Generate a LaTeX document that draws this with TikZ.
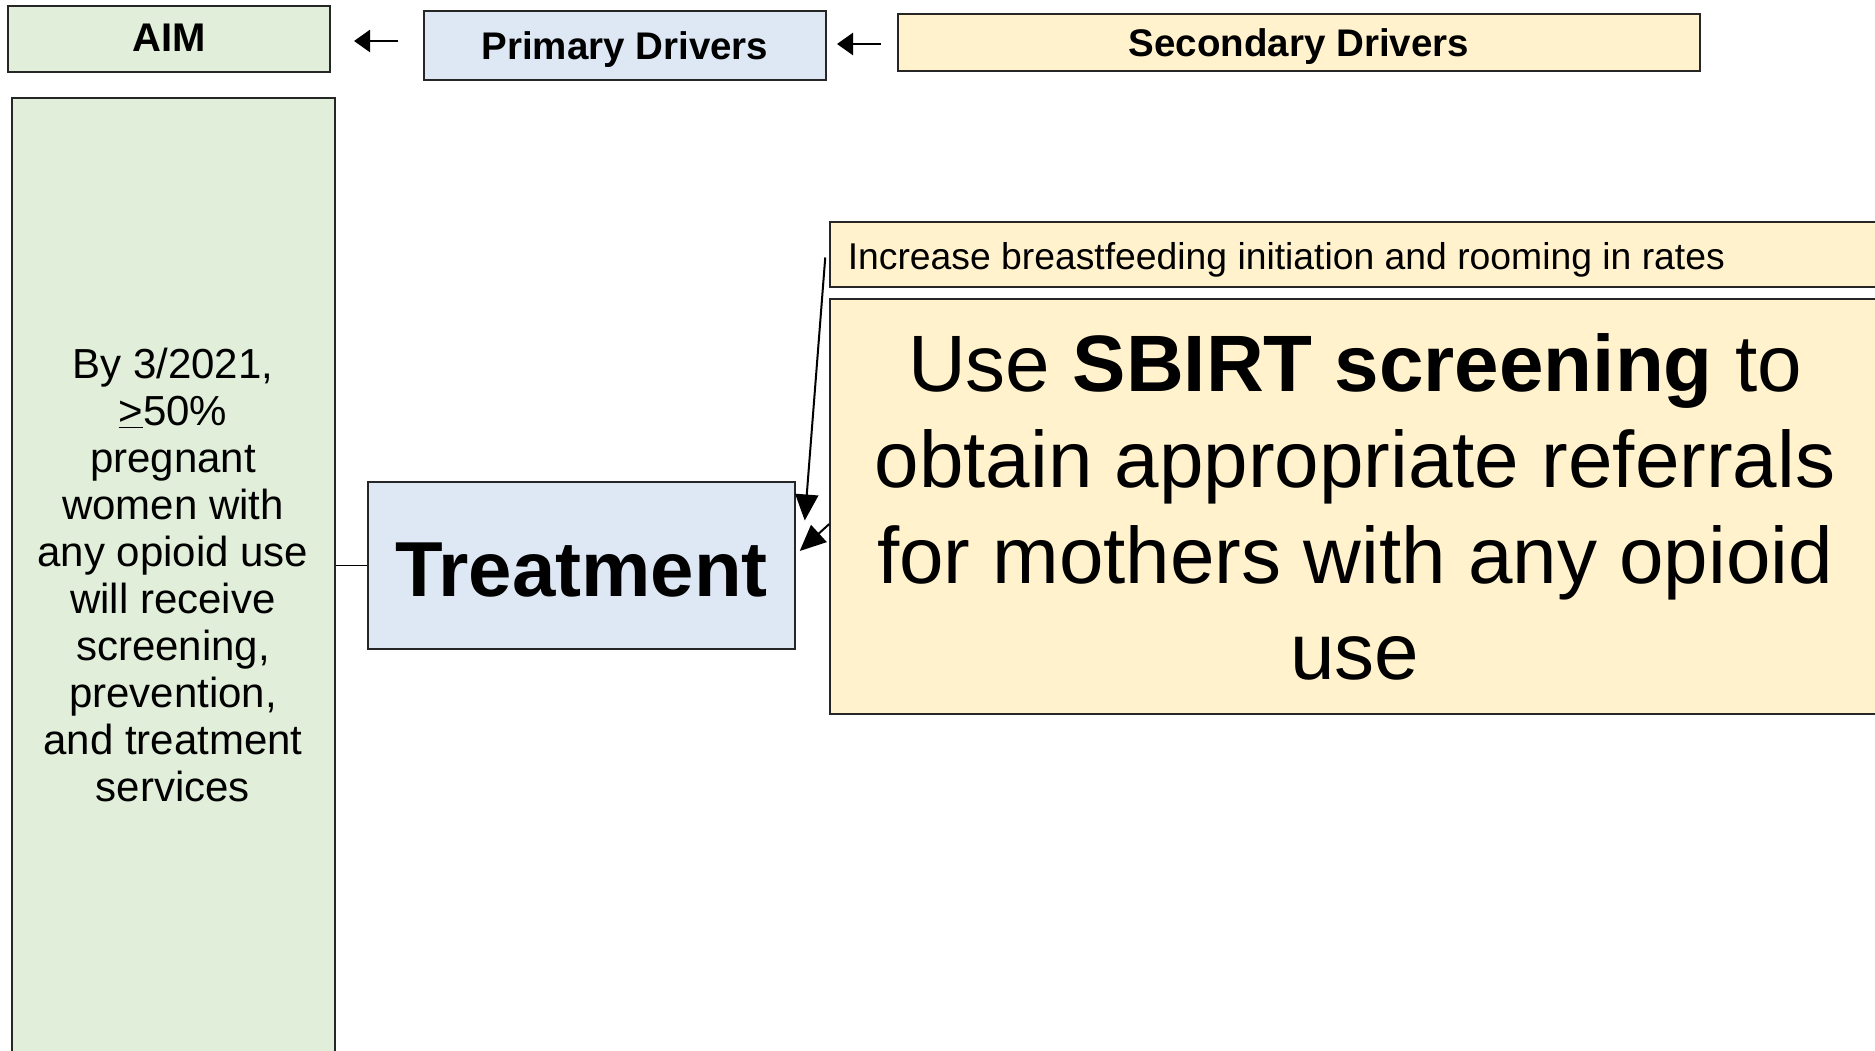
\documentclass[tikz,border=0pt]{standalone}
\usepackage{fontspec}
\setmainfont{Liberation Sans}
\usetikzlibrary{arrows.meta,calc}
\definecolor{aimgreen}{HTML}{E1EED9}
\definecolor{pdblue}{HTML}{DEE8F5}
\definecolor{sdyellow}{HTML}{FFF2CC}
\begin{document}
\begin{tikzpicture}[x=1pt,y=-1pt,
  box/.style={draw=black!85, line width=1.5pt, inner sep=0pt, rectangle, text=black},
  conn/.style={line width=2pt, -{Triangle[length=26pt,width=23pt]}},
  hdrarrow/.style={line width=2.5pt, -{Triangle[length=16pt,width=22pt]}},
  hdrfont/.style={font=\fontsize{38.5}{44}\selectfont\bfseries},
]
\useasboundingbox (0,0) rectangle (1875,1051);
\clip (0,0) rectangle (1875,1051);
\fill[white] (0,0) rectangle (1875,1051);

% header row
\node[box, fill=aimgreen, minimum width=322pt, minimum height=66pt,
  label={[font=\fontsize{40}{46}\selectfont\bfseries, yshift=1pt]center:AIM}] (aimhdr) at (169,39) {};
\node[box, fill=pdblue, minimum width=402pt, minimum height=69pt,
  label={[hdrfont, yshift=-4pt]center:Primary Drivers}] (pdhdr) at (625,45.5) {};
\node[box, fill=sdyellow, minimum width=802pt, minimum height=57pt,
  label={[hdrfont, yshift=-4pt]center:Secondary Drivers}] (sdhdr) at (1299,42.5) {};

\coordinate (h1s) at (398,41);
\coordinate (h1e) at (354,41);
\coordinate (h2s) at (881,44);
\coordinate (h2e) at (837,44);
\draw[hdrarrow] (h1s) -- (h1e);
\draw[hdrarrow] (h2s) -- (h2e);

% aim box
\node[box, fill=aimgreen, minimum width=323pt, minimum height=972pt] (aimbox) at (173.5,584) {};
\node[align=center, inner sep=0pt, font=\fontsize{42}{47}\selectfont] (aimtxt) at (173,575)
  {By 3/2021,\\ \underline{>}50\%\\ pregnant\\ women with\\ any opioid use\\ will receive\\ screening,\\ prevention,\\ and treatment\\ services};

% primary driver
\node[box, fill=pdblue, minimum width=427pt, minimum height=167pt,
  label={[font=\fontsize{78}{90}\selectfont\bfseries, yshift=-5pt]center:Treatment}] (treat) at (581.5,565.5) {};

% secondary drivers
\node[box, fill=sdyellow, minimum width=1050pt, minimum height=65pt,
  label={[anchor=west, xshift=15pt, yshift=-5pt, font=\fontsize{37.3}{44}\selectfont]west:Increase breastfeeding initiation and rooming in rates}] (bf) at (1355,254.5) {};
\node[box, fill=sdyellow, minimum width=1050pt, minimum height=415pt, align=center, font=\fontsize{80}{96}\selectfont] (sbirt) at (1355,506.5)
  {Use \textbf{SBIRT screening} to\\ obtain appropriate referrals\\ for mothers with any opioid\\ use};

% connectors
\draw[line width=1.5pt] (aimbox.east |- treat.west) -- (treat.west);
\draw[conn] ($(bf.west)+(-4,3)$) -- ($(treat.east)+(9,-45)$);
\draw[conn] ($(sbirt.west)+(0,17.5)$) -- ($(treat.east)+(4,-14.5)$);
\end{tikzpicture}
\end{document}
